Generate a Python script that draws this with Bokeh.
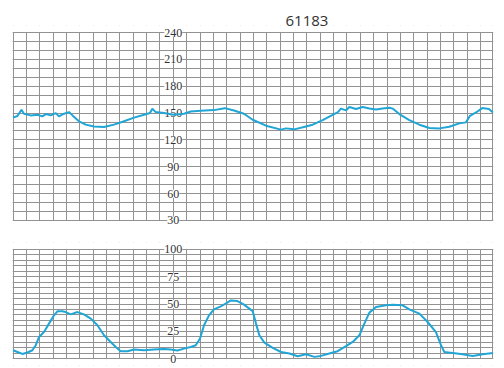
from bokeh.plotting import figure
from bokeh.layouts import column
from bokeh.models import Range1d, Grid, FixedTicker, LabelSet, ColumnDataSource, BoxAnnotation
from bokeh.embed import file_html
from bokeh.resources import INLINE

# ---- data (time in minutes) ----
fhr_t = [0, 0.33, 0.63, 0.82, 1.32, 1.83, 2.20, 2.45, 2.82, 3.20, 3.44, 3.82, 4.19, 4.45,
         4.94, 5.44, 6.06, 6.81, 7.56, 8.31, 9.06, 9.81, 10.25, 10.43, 10.68, 11.30, 12.05,
         12.80, 13.30, 14.05, 15.04, 15.85, 16.54, 17.29, 17.94, 18.94, 20.06, 20.43, 21.06,
         21.93, 22.43, 23.18, 23.93, 24.30, 24.55, 24.93, 25.18, 25.67, 26.18, 26.68, 27.17,
         27.67, 28.17, 28.42, 28.92, 29.67, 30.42, 31.17, 31.92, 32.66, 33.41, 33.91, 34.21,
         34.66, 35.13, 35.63, 35.93]
fhr_v = [144.9, 146.7, 153.7, 149.3, 147.4, 148.2, 146.3, 148.9, 147.4, 150.0, 146.3, 149.3,
         151.1, 147.4, 140.8, 137.1, 135.0, 134.5, 137.1, 140.8, 144.9, 148.2, 150.0, 154.8,
         151.1, 150.0, 148.2, 149.3, 151.8, 152.6, 153.3, 155.5, 152.9, 149.3, 142.5, 135.9,
         131.5, 132.9, 131.8, 135.1, 137.0, 142.2, 148.1, 150.7, 155.0, 153.0, 156.8, 154.6,
         156.8, 155.0, 154.0, 155.0, 156.0, 155.0, 148.9, 142.2, 137.0, 133.3, 132.9, 134.8,
         138.5, 139.6, 147.0, 150.7, 155.6, 154.5, 150.7]

uc_t = [0, 0.33, 0.70, 1.08, 1.45, 1.70, 1.95, 2.32, 2.69, 3.07, 3.32, 3.70, 3.94, 4.32,
        4.82, 5.31, 5.82, 6.32, 6.81, 7.31, 7.69, 8.06, 8.56, 9.06, 9.81, 10.55, 11.30, 11.80,
        12.31, 12.80, 13.30, 13.68, 14.00, 14.30, 14.67, 15.04, 15.55, 15.92, 16.30, 16.80,
        17.29, 17.94, 18.19, 18.44, 18.82, 19.44, 20.06, 20.69, 21.31, 21.93, 22.56, 23.05,
        23.68, 24.30, 24.93, 25.43, 25.93, 26.30, 26.68, 27.17, 27.92, 28.42, 29.17, 29.67,
        30.42, 31.04, 31.66, 32.04, 32.29, 32.91, 33.66, 34.41, 35.16, 35.93]
uc_v = [7.6, 6.0, 4.2, 5.5, 7.6, 12.2, 19.8, 24.3, 32.0, 39.6, 43.3, 43.3, 42.6, 40.5,
        42.6, 40.5, 36.6, 30.5, 21.3, 15.2, 10.6, 6.7, 6.7, 8.2, 7.6, 8.2, 8.8, 8.2,
        7.3, 9.1, 10.6, 12.2, 18.3, 30.5, 39.6, 45.1, 47.9, 50.3, 53.3, 52.7,
        49.4, 43.5, 32.0, 21.3, 14.6, 9.7, 6.0, 4.6, 2.1, 3.9, 1.5, 2.4,
        4.6, 6.7, 11.3, 15.2, 21.3, 32.0, 42.1, 47.2, 48.8, 49.4, 48.8, 45.1,
        41.2, 33.5, 24.3, 12.2, 6.0, 5.1, 3.9, 2.4, 3.9, 5.1]

fhr_ticks = [30, 60, 90, 120, 150, 180, 210, 240]
uc_ticks = [0, 25, 50, 75, 100]
axis_pos = 12          # minute at which the value labels sit
x_end = 35.93
title_text = "61183"

GRID = "#929292"
LINE = "#20a5d5"
FONT = "Open Sans"


def make_fig(height, y0, y1, ystep, pad, half_px, top, bottom):
    p = figure(width=504, height=height, output_backend="svg", toolbar_location=None,
               x_range=Range1d(-0.04, x_end + 0.04), y_range=Range1d(y0 - pad, y1 + pad),
               x_axis_location=None, y_axis_location=None,
               min_border_left=12, min_border_right=11,
               min_border_top=top, min_border_bottom=bottom)
    for g in list(p.center):
        if isinstance(g, Grid):
            p.center.remove(g)
    p.add_layout(Grid(dimension=0, ticker=FixedTicker(ticks=list(range(0, 36)) + [x_end]),
                      grid_line_color=GRID, grid_line_width=1))
    p.add_layout(Grid(dimension=1, ticker=FixedTicker(ticks=list(range(y0, y1 + 1, ystep))),
                      grid_line_color=GRID, grid_line_width=1))
    # white masks so the grid stops at the chart's value limits
    p.add_layout(BoxAnnotation(bottom=y1 + half_px, fill_color="white", fill_alpha=1,
                               line_color=None, level="underlay"))
    p.add_layout(BoxAnnotation(top=y0 - half_px, fill_color="white", fill_alpha=1,
                               line_color=None, level="underlay"))
    p.outline_line_color = None
    p.background_fill_color = "white"
    p.border_fill_color = "white"
    return p


def add_labels(p, ticks):
    src = ColumnDataSource(dict(x=[axis_pos] * len(ticks), y=ticks, t=[str(v) for v in ticks]))
    p.add_layout(LabelSet(x="x", y="y", text="t", source=src, text_align="center",
                          text_baseline="middle", text_font=FONT, text_font_size="12px",
                          text_color="#333333", background_fill_color="white"))


p1 = make_fig(227, 30, 240, 10, 7.82, 0.56, 25, 0)
p1.title.text = title_text
p1.title.align = "left"
p1.title.offset = 273
p1.title.standoff = 0
p1.title.text_font = FONT
p1.title.text_font_size = "15px"
p1.title.text_font_style = "normal"
p1.title.text_color = "#333333"
add_labels(p1, fhr_ticks)
p1.line(fhr_t, fhr_v, line_color=LINE, line_width=2, level="overlay")

p2 = make_fig(141, 0, 100, 5, 6.4, 0.46, 15, 3)
add_labels(p2, uc_ticks)
p2.line(uc_t, uc_v, line_color=LINE, line_width=2, level="overlay")

layout = column(p1, p2)
open("out.html", "w").write(file_html(layout, INLINE))
